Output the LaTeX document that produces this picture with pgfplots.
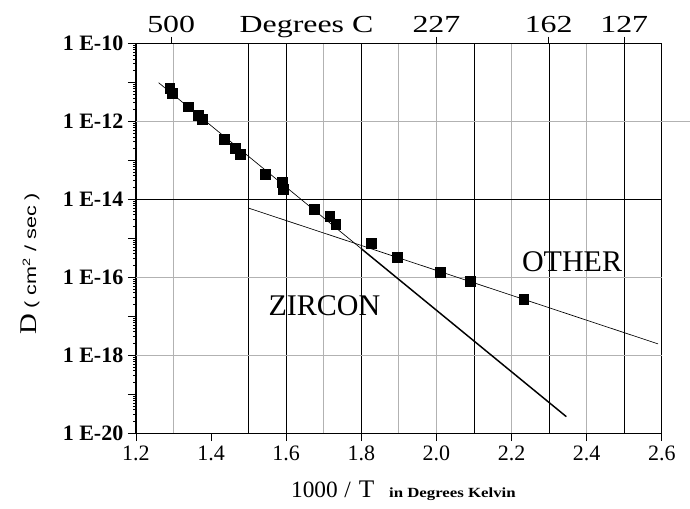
\documentclass[border=0pt]{standalone}
\usepackage{fontspec}
\setmainfont{Liberation Serif}
\newfontfamily\serifA{Liberation Serif}[FakeStretch=1.2]
\newfontfamily\wideserif{Liberation Serif}[FakeStretch=1.3]
\newfontfamily\sansf{Liberation Sans}[FakeStretch=1.35]
\usepackage{pgfplots}
\pgfplotsset{compat=1.18}

\pgfplotstableread{
x y
1.2900 6.98e-12
1.2965 5.19e-12
1.3396 2.35e-12
1.3655 1.44e-12
1.3774 1.11e-12
1.4356 3.48e-13
1.4653 2.00e-13
1.4779 1.43e-13
1.5453 4.39e-14
1.5900 2.78e-14
1.5932 1.77e-14
1.6739 5.43e-15
1.7159 3.59e-15
1.7321 2.25e-15
1.8264 7.40e-16
1.8949 3.23e-16
2.0108 1.36e-16
2.0889 7.82e-17
2.2326 2.69e-17
}\datatable

\begin{document}
\begin{tikzpicture}
\begin{axis}[
  scale only axis, width=394.5pt, height=292.5pt,
  xmin=1.2, xmax=2.6, ymode=log, ymin=1e-20, ymax=1e-10,
  clip=false,
  axis line style={line width=0.9pt},
  xtick={1.2,1.4,1.6,1.8,2.0,2.2,2.4,2.6},
  xticklabels={1.2,1.4,1.6,1.8,2.0,2.2,2.4,2.6},
  xtick pos=bottom, ytick pos=left,
  tick align=outside,
  major tick length=6pt, minor tick length=2pt,
  tick style={black, line width=0.7pt},
  minor tick style={line width=0.4pt},
  ytick={1e-20,1e-19,1e-18,1e-17,1e-16,1e-15,1e-14,1e-13,1e-12,1e-11,1e-10},
  yticklabels={1 E-20,,1 E-18,,1 E-16,,1 E-14,,1 E-12,,1 E-10},
  xticklabel style={font=\fontsize{16.5}{16.5}\selectfont},
  yticklabel style={font=\bfseries\fontsize{16.5}{16.5}\selectfont},
]
% invisible frame fixing the picture size
\path (rel axis cs:-0.2586,-0.1923) rectangle (rel axis cs:1.0532,1.111);
% vertical grid lines
\pgfplotsinvokeforeach{1.3,1.7,1.9,2.0,2.2,2.4}{
  \draw[gray!60, line width=0.6pt] (axis cs:#1,1e-20) -- (axis cs:#1,1e-10);
}
\pgfplotsinvokeforeach{1.5,1.6,1.8,2.1,2.3,2.5}{
  \draw[black, line width=0.6pt] (axis cs:#1,1e-20) -- (axis cs:#1,1e-10);
}
% horizontal grid lines
\draw[gray!60, line width=0.6pt] (axis cs:1.2,1e-12) -- (axis cs:2.674,1e-12);
\draw[black, line width=1pt] (axis cs:1.2,1e-14) -- (axis cs:2.6,1e-14);
\draw[gray!60, line width=0.6pt] (axis cs:1.2,1e-16) -- (axis cs:2.6,1e-16);
\draw[gray!60, line width=0.6pt] (axis cs:1.2,1e-18) -- (axis cs:2.6,1e-18);

% fitted lines
\addplot[black, line width=0.5pt] coordinates {(1.2604,9.73e-12) (1.8,5.38e-16)};
\addplot[black, line width=1.1pt] coordinates {(1.8,5.38e-16) (2.3458,2.65e-20)};
\addplot[black, line width=0.5pt] coordinates {(1.4987,5.97e-15) (2.59,1.95e-18)};
% data
\addplot[only marks, mark=square*, mark size=3.7pt, black] table[x=x,y=y] {\datatable};

\node[font=\fontsize{22.5}{22.5}\selectfont] at (axis cs:1.7016,1.89e-17) {ZIRCON};
\node[font=\fontsize{22.5}{22.5}\selectfont] at (axis cs:2.361,2.45e-16) {OTHER};

\node[anchor=base] at (rel axis cs:0.5086,-0.1641)
  {{\fontsize{17.5}{17.5}\selectfont 1000\hspace{5pt}/\hspace{6pt}{\fontsize{19}{19}\selectfont T}}\hspace{11pt}{\serifA\bfseries\fontsize{10.5}{10.5}\selectfont in Degrees Kelvin}};
\node[anchor=base, rotate=90] at (rel axis cs:-0.1901,0.4346)
  {{\serifA\fontsize{18}{18}\selectfont D}\hspace{4pt}{\sansf\fontsize{12}{12}\selectfont ( cm\textsuperscript{2} / sec )}};
\end{axis}

\begin{axis}[
  scale only axis, width=394.5pt, height=292.5pt,
  xmin=1.2, xmax=2.6, ymin=0, ymax=1,
  clip=false,
  axis x line*=top, axis y line=none,
  axis line style={line width=0.9pt},
  xtick={1.2937,2,2.2989,2.5},
  xticklabels={},
  tick align=outside, major tick length=5pt,
  tick style={black, line width=0.7pt},
]
\node[anchor=base, font=\wideserif\fontsize{18.4}{18.4}\selectfont] at ([yshift=8.3pt]axis cs:1.2937,1) {500};
\node[anchor=base, font=\wideserif\fontsize{18.4}{18.4}\selectfont] at ([yshift=8.3pt]axis cs:1.654,1) {Degrees C};
\node[anchor=base, font=\wideserif\fontsize{18.4}{18.4}\selectfont] at ([yshift=8.3pt]axis cs:2,1) {227};
\node[anchor=base, font=\wideserif\fontsize{18.4}{18.4}\selectfont] at ([yshift=8.3pt]axis cs:2.2989,1) {162};
\node[anchor=base, font=\wideserif\fontsize{18.4}{18.4}\selectfont] at ([yshift=8.3pt]axis cs:2.5,1) {127};
\end{axis}
\end{tikzpicture}
\end{document}
